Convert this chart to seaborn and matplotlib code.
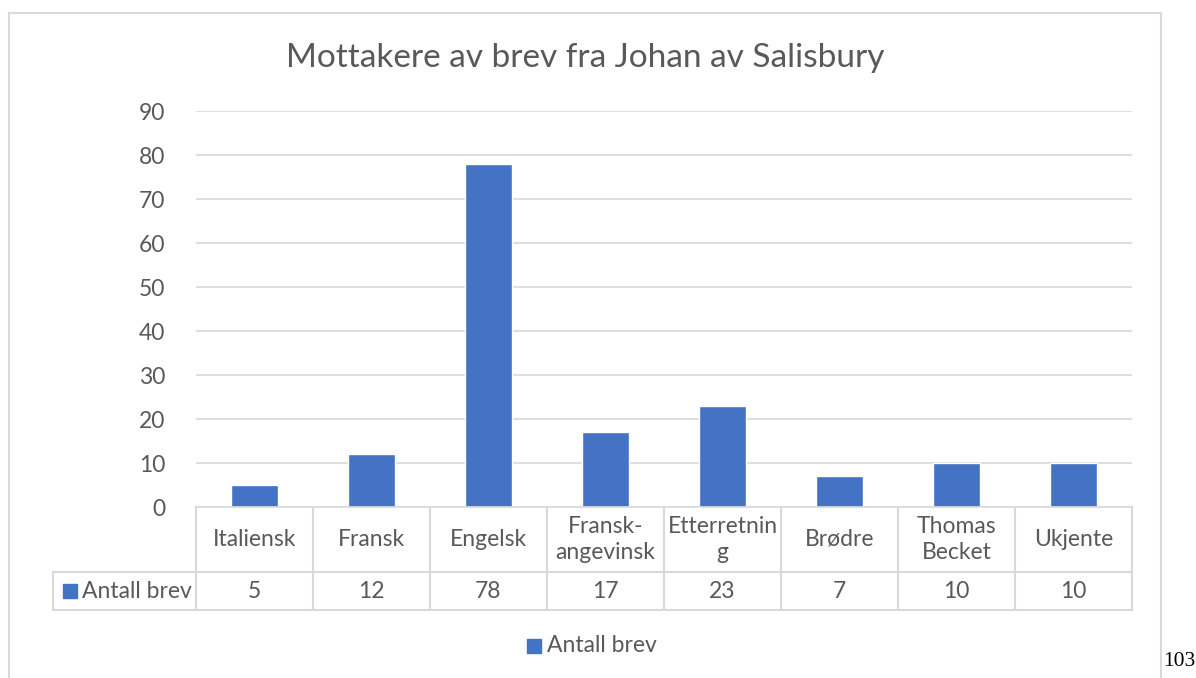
import matplotlib
matplotlib.use('Agg')
import matplotlib.pyplot as plt
import seaborn as sns
import pandas as pd
from matplotlib.lines import Line2D
from matplotlib.patches import Rectangle

# Data
categories = ['Italiensk', 'Fransk', 'Engelsk', 'Fransk-\nangevinsk', 'Etterretnin\ng',
              'Brødre', 'Thomas\nBecket', 'Ukjente']
antall_brev = [5, 12, 78, 17, 23, 7, 10, 10]
series_name = 'Antall brev'
title = 'Mottakere av brev fra Johan av Salisbury'

sns.set_style('white')
plt.rcParams['font.family'] = ['Lato', 'DejaVu Sans']

W, H = 1196, 678
fig = plt.figure(figsize=(W / 100, H / 100), dpi=100)

def fx(px):
    return px / W

def fy(py):
    return 1 - py / H

# plot area in pixel coords
left, right, top, bottom = 196, 1132, 111, 507
ax = fig.add_axes([fx(left), fy(bottom), (right - left) / W, (bottom - top) / H])

df = pd.DataFrame({'cat': categories, 'val': antall_brev})
blue = '#4472C4'
grey_txt = '#595959'
line_c = '#d9d9d9'
fs = 16.5
sns.barplot(data=df, x='cat', y='val', color=blue, width=0.4, saturation=1, ax=ax)

ax.set_ylim(0, 90)
ax.set_xlim(-0.5, len(categories) - 0.5)
ax.set_yticks(range(0, 91, 10))
ax.yaxis.grid(True, color=line_c, linewidth=1.2)
ax.set_axisbelow(True)
for s in ['top', 'right', 'left']:
    ax.spines[s].set_visible(False)
ax.spines['bottom'].set_color(line_c)
ax.spines['bottom'].set_linewidth(1.2)
ax.tick_params(axis='y', length=0, labelsize=fs, labelcolor=grey_txt, pad=22)
ax.set_xticks([])
ax.set_xlabel('')
ax.set_ylabel('')

# data table below the axes
trans = ax.get_xaxis_transform()
row1 = -(572 - bottom) / (bottom - top)
row2 = -(610 - bottom) / (bottom - top)
n = len(categories)
left_cell = (53 - left) / ((right - left) / n) - 0.5
lk = dict(color=line_c, linewidth=1.5, transform=trans, clip_on=False)
for i in range(n + 1):
    ax.add_line(Line2D([i - 0.5, i - 0.5], [0, row2], **lk))
ax.add_line(Line2D([left_cell, n - 0.5], [row1, row1], **lk))
ax.add_line(Line2D([left_cell, n - 0.5], [row2, row2], **lk))
ax.add_line(Line2D([left_cell, left_cell], [row1, row2], **lk))
for i, (c, v) in enumerate(zip(categories, antall_brev)):
    ax.text(i, row1 / 2, c, transform=trans, ha='center', va='center',
            fontsize=fs, color=grey_txt, linespacing=1.3)
    ax.text(i, (row1 + row2) / 2, str(v), transform=trans, ha='center', va='center',
            fontsize=fs, color=grey_txt)

# legend key inside table
fig.patches.append(Rectangle((fx(63), fy(598)), 14 / W, 14 / H, color=blue,
                             transform=fig.transFigure))
fig.text(fx(82), fy(591), series_name, ha='left', va='center', fontsize=fs, color=grey_txt)

# bottom legend
fig.patches.append(Rectangle((fx(527), fy(653)), 14 / W, 14 / H, color=blue,
                             transform=fig.transFigure))
fig.text(fx(547), fy(646), series_name, ha='left', va='center', fontsize=fs, color=grey_txt)

# title
fig.text(fx(585), fy(58), title, ha='center', va='center', fontsize=24, color=grey_txt)

# outer chart border
for xs, ys in [([9, 9], [13, H]), ([9, 1161], [13, 13]), ([1161, 1161], [13, H])]:
    fig.add_artist(Line2D([fx(x) for x in xs], [fy(y) for y in ys], color=line_c,
                          linewidth=1.5, transform=fig.transFigure))

# page number
fig.text(fx(1163), fy(661), '103', ha='left', va='center', fontsize=15.5,
         family='Liberation Serif', color='black')

fig.savefig('out.png', dpi=100)
